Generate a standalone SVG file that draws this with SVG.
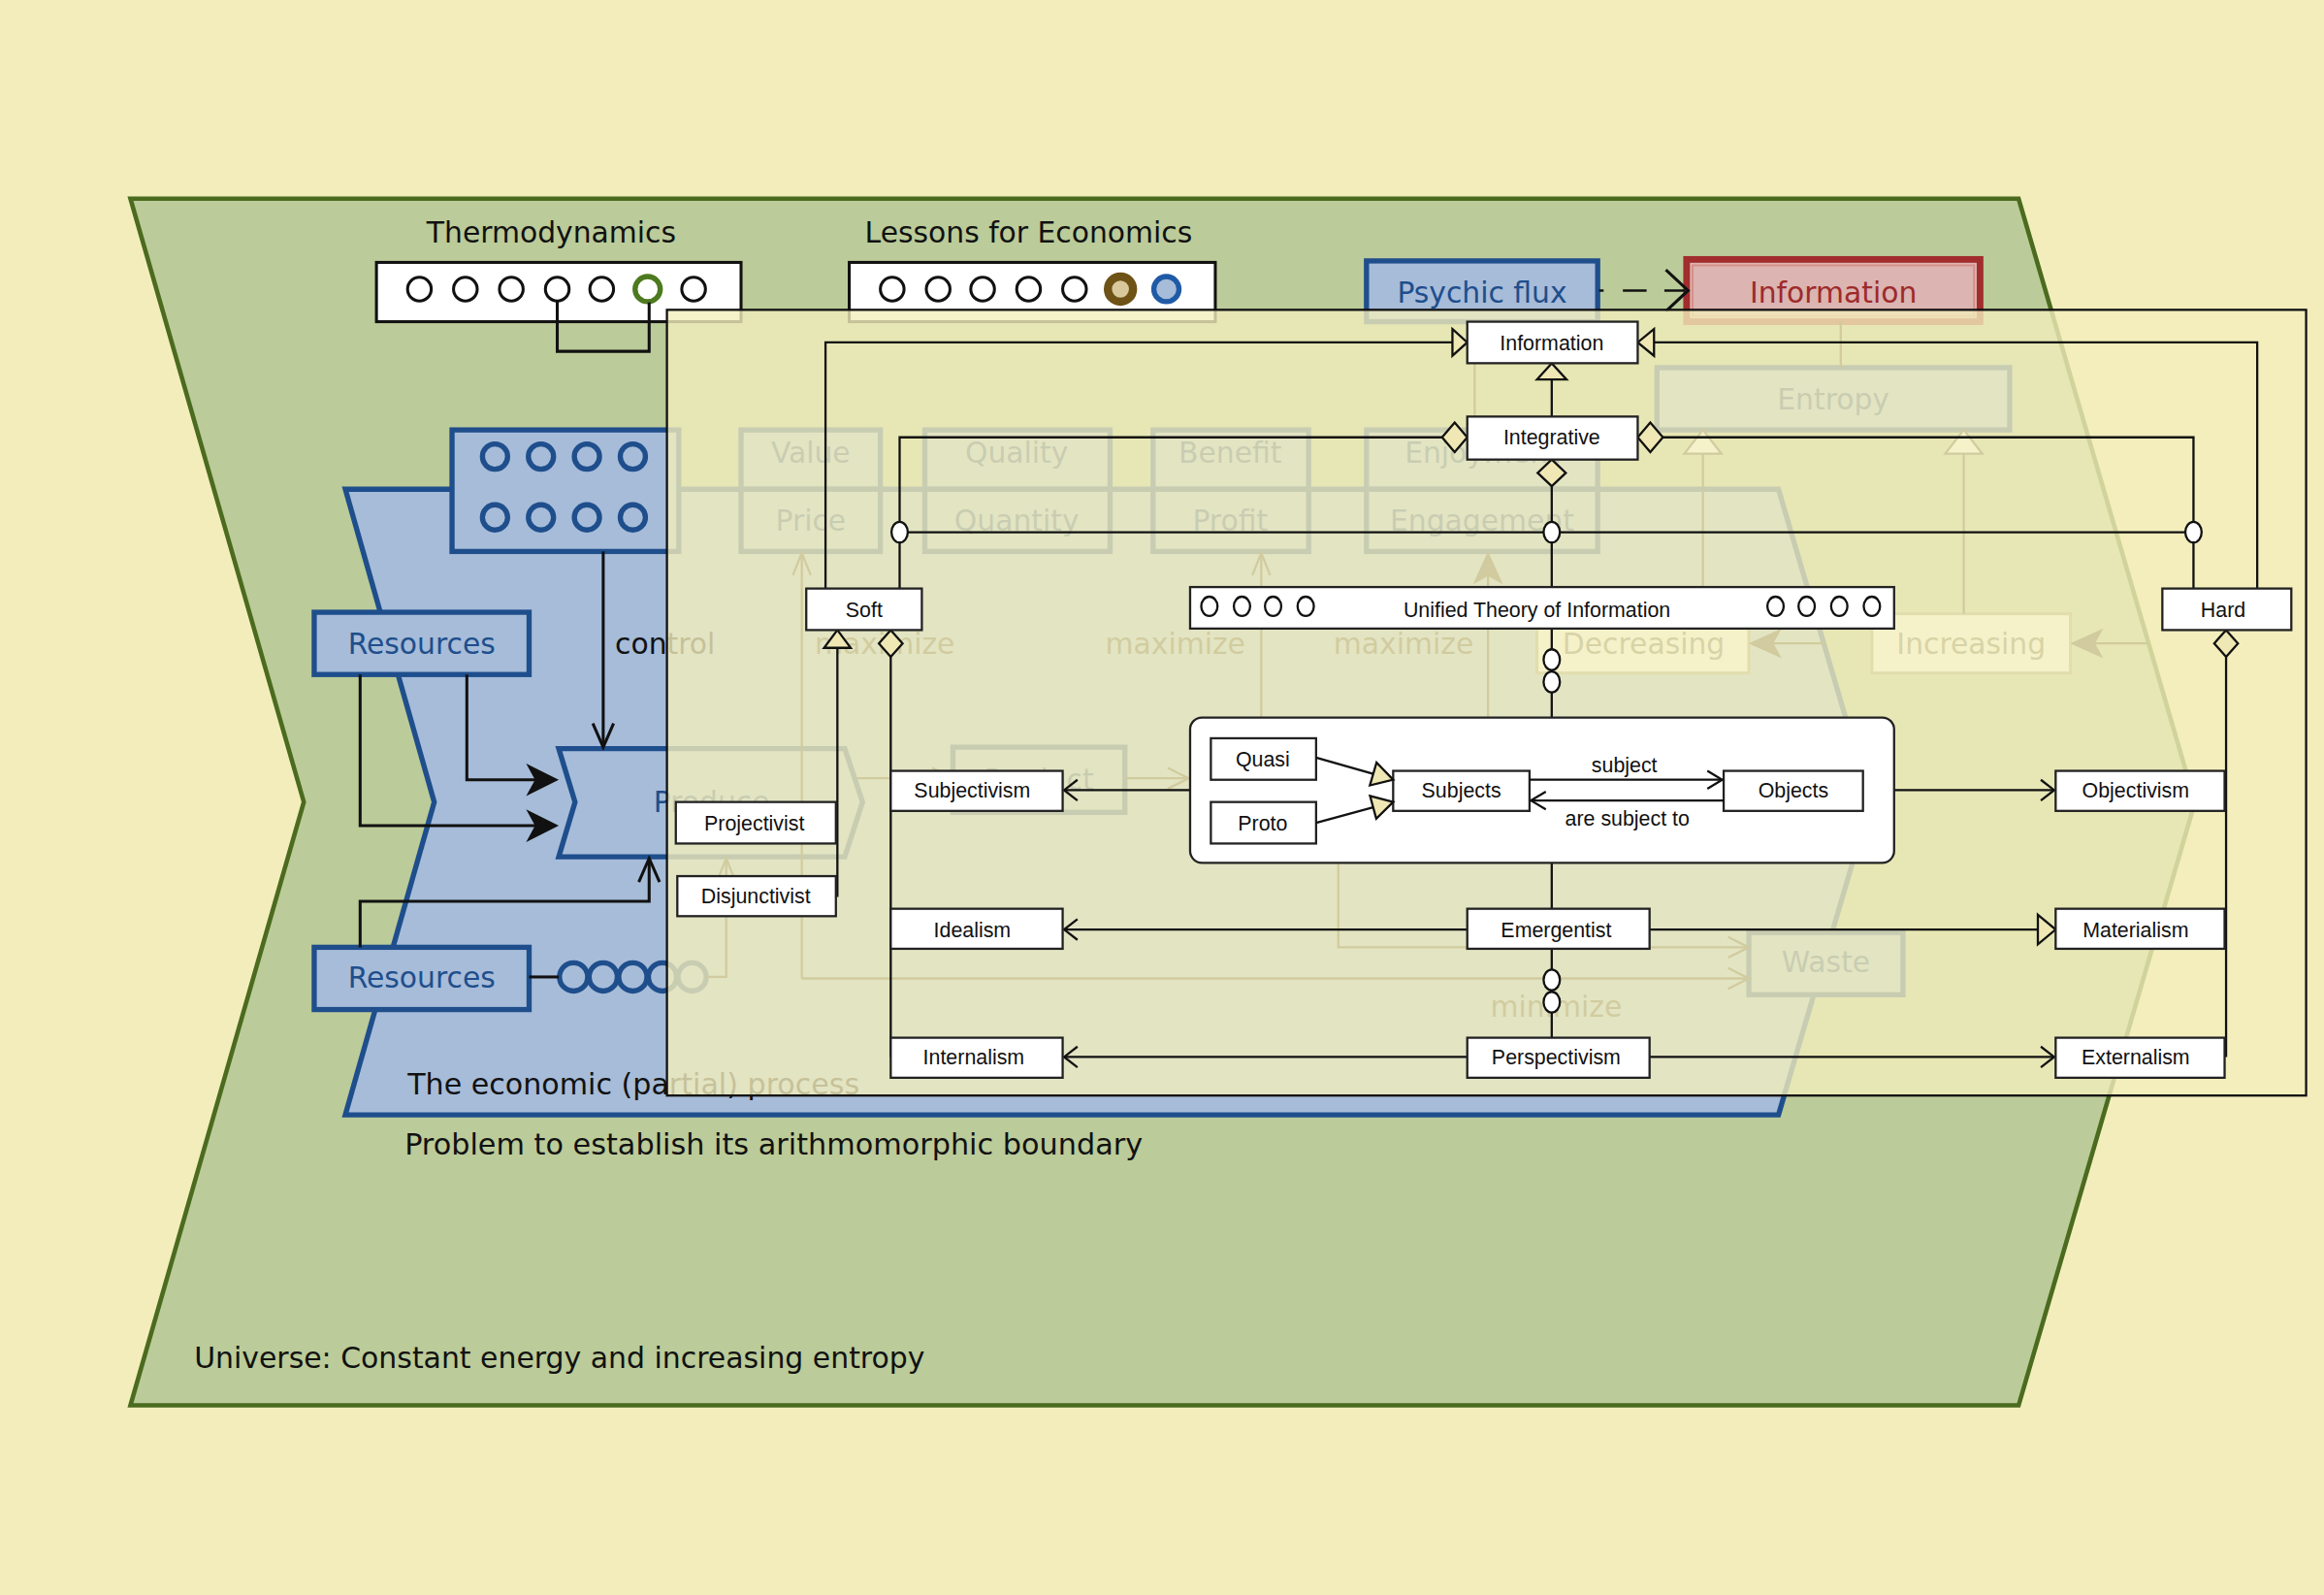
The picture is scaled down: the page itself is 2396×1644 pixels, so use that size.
<svg xmlns="http://www.w3.org/2000/svg" width="2396" height="1644" viewBox="0 0 2396 1644">
<defs>
<style>
.lbl{font-family:"DejaVu Sans",sans-serif;font-size:19.5px;fill:#111;}
.bl{font-family:"DejaVu Sans",sans-serif;font-size:19.5px;fill:#1f4e8c;}
.ft{font-family:"DejaVu Sans",sans-serif;font-size:19.5px;fill:#4a4530;}
.gt{font-family:"DejaVu Sans",sans-serif;font-size:19.5px;fill:#6e6a50;}
.uml{font-family:"Liberation Sans",Arial,sans-serif;font-size:14px;fill:#111;}
.bbox{fill:#a6bcd9;stroke:#1f4e8c;stroke-width:3.5;}
.wb{fill:#fff;stroke:#111;stroke-width:2;}
.ubox{fill:#fff;stroke:#222;stroke-width:1.5;}
.ln{fill:none;stroke:#111;stroke-width:1.5;}
.fl{fill:none;stroke:#4a4430;stroke-width:1.5;}
.ff{fill:#4a4430;stroke:#4a4430;stroke-width:1;}
.gbox{fill:#fff;stroke:#a09a78;stroke-width:2;}
.hol{fill:#efe8b4;stroke:#111;stroke-width:1.5;}
.jn{fill:#fff;stroke:#111;stroke-width:1.5;}
.c0{fill:#fff;stroke:#111;stroke-width:2;}
.cb{fill:none;stroke:#1f4e8c;stroke-width:3.5;}
.thk{fill:none;stroke:#111;stroke-width:2;}
</style>
</defs>
<rect x="0" y="0" width="2396" height="1644" fill="#f3edbc"/>
<g transform="scale(1.528)">
<g id="universe">
<polygon points="88,134 1362,134 1481,541 1362,948 88,948 205,541" fill="#bbcb99" stroke="#4b6b1f" stroke-width="3"/>
<text class="lbl" x="131" y="923" textLength="493" lengthAdjust="spacingAndGlyphs">Universe: Constant energy and increasing entropy</text>
<text class="lbl" x="273" y="779" textLength="498" lengthAdjust="spacingAndGlyphs">Problem to establish its arithmomorphic boundary</text>
</g>
<g id="thermodynamics">
<text class="lbl" x="372" y="163.5" text-anchor="middle">Thermodynamics</text>
<rect class="wb" x="254" y="177" width="246" height="40"/>
<circle class="c0" cx="283" cy="195" r="8"/><circle class="c0" cx="314" cy="195" r="8"/><circle class="c0" cx="345" cy="195" r="8"/><circle class="c0" cx="376" cy="195" r="8"/><circle class="c0" cx="406" cy="195" r="8"/>
<circle cx="437" cy="195" r="8.5" fill="#fff" stroke="#4d7a1f" stroke-width="3.5"/>
<circle class="c0" cx="468" cy="195" r="8"/>
<path class="thk" d="M376,203 V237 H438 V204"/>
</g>
<g id="lessons">
<text class="lbl" x="694" y="163.5" text-anchor="middle">Lessons for Economics</text>
<rect class="wb" x="573" y="177" width="247" height="40"/>
<circle class="c0" cx="602" cy="195" r="8"/><circle class="c0" cx="633" cy="195" r="8"/><circle class="c0" cx="663" cy="195" r="8"/><circle class="c0" cx="694" cy="195" r="8"/><circle class="c0" cx="725" cy="195" r="8"/>
<circle cx="756" cy="195" r="8.5" fill="#d8c89c" stroke="#6e5216" stroke-width="5.5"/>
<circle cx="787" cy="195" r="8.5" fill="#a6bcd9" stroke="#1f5aa6" stroke-width="3.5"/>
</g>
<g id="process">
<polygon points="233,330 1200,330 1262,541 1200,752 233,752 293,541" fill="#a6bcd9" stroke="#1f4e8c" stroke-width="3.5"/>
<text class="lbl" x="275" y="738" textLength="305" lengthAdjust="spacingAndGlyphs">The economic (partial) process</text>
</g>
<g id="control-box">
<rect class="bbox" x="305" y="290" width="153" height="82"/>
<circle class="cb" cx="334" cy="308" r="8.5"/><circle class="cb" cx="365" cy="308" r="8.5"/><circle class="cb" cx="396" cy="308" r="8.5"/><circle class="cb" cx="427" cy="308" r="8.5"/>
<circle class="cb" cx="334" cy="349" r="8.5"/><circle class="cb" cx="365" cy="349" r="8.5"/><circle class="cb" cx="396" cy="349" r="8.5"/><circle class="cb" cx="427" cy="349" r="8.5"/>
</g>
<g id="resources-1"><rect class="bbox" x="212" y="413" width="145" height="42"/><text class="bl" x="284.5" y="441" text-anchor="middle">Resources</text></g>
<g id="resources-2"><rect class="bbox" x="212" y="639" width="145" height="42"/><text class="bl" x="284.5" y="666" text-anchor="middle">Resources</text></g>
<g id="produce"><polygon class="bbox" points="377,505 570,505 582,541 570,578 377,578 388,541"/><text class="bl" x="441" y="548">Produce</text></g>
<g id="chain">
<circle class="cb" cx="387" cy="659" r="9.5" stroke-width="3"/><circle class="cb" cx="407" cy="659" r="9.5" stroke-width="3"/><circle class="cb" cx="427" cy="659" r="9.5" stroke-width="3"/><circle class="cb" cx="447" cy="659" r="9.5" stroke-width="3"/><circle class="cb" cx="467" cy="659" r="9.5" stroke-width="3"/>
</g>
<g id="value-price"><rect class="bbox" x="500" y="290" width="94" height="40"/><rect class="bbox" x="500" y="330" width="94" height="42"/><text class="bl" x="547" y="312" text-anchor="middle">Value</text><text class="bl" x="547" y="358" text-anchor="middle">Price</text></g>
<g id="quality-quantity"><rect class="bbox" x="624" y="290" width="125" height="40"/><rect class="bbox" x="624" y="330" width="125" height="42"/><text class="bl" x="686" y="312" text-anchor="middle">Quality</text><text class="bl" x="686" y="358" text-anchor="middle">Quantity</text></g>
<g id="benefit-profit"><rect class="bbox" x="778" y="290" width="105" height="40"/><rect class="bbox" x="778" y="330" width="105" height="42"/><text class="bl" x="830" y="312" text-anchor="middle">Benefit</text><text class="bl" x="830" y="358" text-anchor="middle">Profit</text></g>
<g id="enjoyment-engagement"><rect class="bbox" x="922" y="290" width="156" height="40"/><rect class="bbox" x="922" y="330" width="156" height="42"/><text class="bl" x="1000" y="312" text-anchor="middle">Enjoyment</text><text class="bl" x="1000" y="358" text-anchor="middle">Engagement</text></g>
<g id="product"><rect class="bbox" x="643" y="504" width="116" height="44"/><text class="bl" x="701" y="533" text-anchor="middle">Product</text></g>
<g id="waste"><rect class="bbox" x="1180" y="629" width="104" height="42"/><text class="bl" x="1232" y="656" text-anchor="middle">Waste</text></g>
<g id="entropy"><rect class="bbox" x="1118" y="248" width="238" height="42"/><text class="bl" x="1237" y="276" text-anchor="middle">Entropy</text></g>
<g id="decreasing"><rect class="gbox" x="1037" y="414" width="143" height="40"/><text class="gt" x="1109" y="441" text-anchor="middle">Decreasing</text></g>
<g id="increasing"><rect class="gbox" x="1263" y="414" width="134" height="40"/><text class="gt" x="1330" y="441" text-anchor="middle">Increasing</text></g>
<g id="psychic-flux"><rect class="bbox" x="922" y="176" width="156" height="41" stroke="#2158a6"/><text class="bl" x="1000" y="204" text-anchor="middle">Psychic flux</text></g>
<g id="information-red"><rect x="1138" y="175" width="198" height="42" fill="#dcb4b1" stroke="#a12d2d" stroke-width="4.5"/><rect x="1142" y="179" width="190" height="34" fill="none" stroke="#d68c86" stroke-width="1.2"/><text x="1237" y="204" text-anchor="middle" font-family="DejaVu Sans, sans-serif" font-size="19.5" fill="#9e2a2a">Information</text></g>
<g id="eco-connectors">
<path class="thk" d="M407,372 V503"/><path class="thk" d="M400,488 L407,504 L414,488"/>
<path class="thk" d="M315,455 V526 H362"/><path d="M377,526 L355,515 L361,526 L355,537 Z" fill="#111"/>
<path class="thk" d="M243,455 V557 H362"/><path d="M377,557 L355,546 L361,557 L355,568 Z" fill="#111"/>
<path class="thk" d="M243,639 V608 H438 V580"/><path class="thk" d="M431,595 L438,579 L445,595"/>
<path class="thk" d="M357,659 H377"/>
<path class="ln" d="M1079,196 h3 M1095,196 h16 M1123,196 h14" stroke-width="2"/>
<path class="thk" d="M1124,182 L1139,196 L1124,210"/>
<text class="lbl" x="415" y="441">control</text>
<path class="fl" d="M1242,217 V248"/>
<path class="fl" d="M995,217 V290"/>
<path class="fl" d="M476,659 H490 V581"/><path class="fl" d="M484,594 L490,579 L496,594"/>
<path class="fl" d="M578,525 H641"/><path class="fl" d="M629,518 L643,525 L629,532"/>
<path class="fl" d="M759,525 H800"/><path class="fl" d="M788,518 L802,525 L788,532"/>
<path class="fl" d="M541,660 V374"/><path class="fl" d="M535,388 L541,373 L547,388"/>
<path class="fl" d="M541,660 H1178"/><path class="fl" d="M1166,653 L1180,660 L1166,667"/>
<path class="fl" d="M903,582 V639 H1178"/><path class="fl" d="M1166,632 L1180,639 L1166,646"/>
<path class="fl" d="M851,484 V374"/><path class="fl" d="M845,388 L851,373 L857,388"/>
<path class="fl" d="M1004,484 V380"/><path class="ff" d="M1004,373 L1013,393 L1004,388 L995,393 Z"/>
<path class="fl" d="M1232,434 H1190"/><path class="ff" d="M1181,434 L1201,425 L1196,434 L1201,443 Z"/>
<path class="fl" d="M1449,434 H1406"/><path class="ff" d="M1398,434 L1418,425 L1413,434 L1418,443 Z"/>
<path class="fl" d="M1149,414 V306"/><path d="M1149,290 L1161.5,306 L1136.5,306 Z" fill="#fff" stroke="#4a4430" stroke-width="1.5"/>
<path class="fl" d="M1325,414 V306"/><path d="M1325,290 L1337.5,306 L1312.5,306 Z" fill="#fff" stroke="#4a4430" stroke-width="1.5"/>
<text class="ft" x="597" y="441" text-anchor="middle">maximize</text>
<text class="ft" x="793" y="441" text-anchor="middle">maximize</text>
<text class="ft" x="947" y="441" text-anchor="middle">maximize</text>
<text class="ft" x="1050" y="686" text-anchor="middle">minimize</text>
</g>
<rect id="uml-panel" x="450" y="209" width="1106" height="530" fill="#f3edbc" fill-opacity="0.8" stroke="#111" stroke-width="1.5"/>
<g id="connectors">
<path class="ln" d="M557,397 V231 H981"/><path class="hol" d="M980,222 L990,231 L980,240 Z"/>
<path class="ln" d="M1523,397 V231 H1115"/><path class="hol" d="M1116,222 L1105,231 L1116,240 Z"/>
<path class="ln" d="M607,397 V295 H973"/><path class="hol" d="M973,295 L981.5,285 L990,295 L981.5,305 Z"/>
<path class="ln" d="M1480,397 V295 H1122"/><path class="hol" d="M1105,295 L1113.5,285 L1122,295 L1113.5,305 Z"/>
<path class="ln" d="M1047,281 V256"/><path class="hol" d="M1037,256 L1047,245 L1057,256 Z"/>
<path class="ln" d="M1047,328 V396"/><path class="hol" d="M1047,310 L1056.5,319 L1047,328 L1037.5,319 Z"/>
<path class="ln" d="M607,359 H1480"/>
<ellipse class="jn" cx="607" cy="359" rx="5.5" ry="7"/><ellipse class="jn" cx="1047" cy="359" rx="5.5" ry="7"/><ellipse class="jn" cx="1480" cy="359" rx="5.5" ry="7"/>
<path class="ln" d="M1047,424 V484"/><ellipse class="jn" cx="1047" cy="445" rx="5.5" ry="7"/><ellipse class="jn" cx="1047" cy="460" rx="5.5" ry="7"/>
<path class="ln" d="M1047,582 V613"/>
<path class="ln" d="M1047,640 V700"/><ellipse class="jn" cx="1047" cy="661" rx="5.5" ry="7"/><ellipse class="jn" cx="1047" cy="676" rx="5.5" ry="7"/>
<path class="ln" d="M803,533 H718"/><path class="ln" d="M727,526 L718,533 L727,540"/>
<path class="ln" d="M1278,533 H1386"/><path class="ln" d="M1377,526 L1386,533 L1377,540"/>
<path class="ln" d="M990,627 H718"/><path class="ln" d="M727,620 L718,627 L727,634"/>
<path class="ln" d="M1113,627 H1375"/><path class="hol" d="M1375,617 L1387,627 L1375,637 Z"/>
<path class="ln" d="M990,713 H718"/><path class="ln" d="M727,706 L718,713 L727,720"/>
<path class="ln" d="M1113,713 H1386"/><path class="ln" d="M1377,706 L1386,713 L1377,720"/>
<path class="ln" d="M565,437 V605"/><path class="hol" d="M565,425 L574,437 L556,437 Z"/>
<path class="ln" d="M601,443 V713"/><path class="hol" d="M601,425 L609,434 L601,443 L593,434 Z"/>
<path class="ln" d="M1502,443 V713"/><path class="hol" d="M1502,425 L1510,434 L1502,443 L1494,434 Z" fill="#f3edbc"/>
</g>
<g id="n-information"><rect class="ubox" x="990" y="217" width="115" height="28"/><text class="uml" x="1047" y="236" text-anchor="middle">Information</text></g>
<g id="n-integrative"><rect class="ubox" x="990" y="281" width="115" height="29"/><text class="uml" x="1047" y="300" text-anchor="middle">Integrative</text></g>
<g id="n-soft"><rect class="ubox" x="544" y="397" width="78" height="28"/><text class="uml" x="583" y="416" text-anchor="middle">Soft</text></g>
<g id="n-hard"><rect class="ubox" x="1459" y="397" width="87" height="28"/><text class="uml" x="1500" y="416" text-anchor="middle">Hard</text></g>
<g id="n-uti"><rect class="ubox" x="803" y="396" width="475" height="28"/>
<ellipse class="jn" cx="816" cy="409" rx="5.5" ry="6.5"/><ellipse class="jn" cx="838" cy="409" rx="5.5" ry="6.5"/><ellipse class="jn" cx="859" cy="409" rx="5.5" ry="6.5"/><ellipse class="jn" cx="881" cy="409" rx="5.5" ry="6.5"/>
<ellipse class="jn" cx="1198" cy="409" rx="5.5" ry="6.5"/><ellipse class="jn" cx="1219" cy="409" rx="5.5" ry="6.5"/><ellipse class="jn" cx="1241" cy="409" rx="5.5" ry="6.5"/><ellipse class="jn" cx="1263" cy="409" rx="5.5" ry="6.5"/>
<text class="uml" x="1037" y="416.5" text-anchor="middle">Unified Theory of Information</text></g>
<g id="n-subjectivism"><rect class="ubox" x="601" y="520" width="116" height="27"/><text class="uml" x="656" y="538" text-anchor="middle">Subjectivism</text></g>
<g id="n-idealism"><rect class="ubox" x="601" y="613" width="116" height="27"/><text class="uml" x="656" y="632" text-anchor="middle">Idealism</text></g>
<g id="n-internalism"><rect class="ubox" x="601" y="700" width="116" height="27"/><text class="uml" x="657" y="718" text-anchor="middle">Internalism</text></g>
<g id="n-objectivism"><rect class="ubox" x="1387" y="520" width="114" height="27"/><text class="uml" x="1441" y="538" text-anchor="middle">Objectivism</text></g>
<g id="n-materialism"><rect class="ubox" x="1387" y="613" width="114" height="27"/><text class="uml" x="1441" y="632" text-anchor="middle">Materialism</text></g>
<g id="n-externalism"><rect class="ubox" x="1387" y="700" width="114" height="27"/><text class="uml" x="1441" y="718" text-anchor="middle">Externalism</text></g>
<g id="n-emergentist"><rect class="ubox" x="990" y="613" width="123" height="27"/><text class="uml" x="1050" y="632" text-anchor="middle">Emergentist</text></g>
<g id="n-perspectivism"><rect class="ubox" x="990" y="700" width="123" height="27"/><text class="uml" x="1050" y="718" text-anchor="middle">Perspectivism</text></g>
<g id="n-projectivist"><rect class="ubox" x="456" y="541" width="108" height="28"/><text class="uml" x="509" y="560" text-anchor="middle">Projectivist</text></g>
<g id="n-disjunctivist"><rect class="ubox" x="457" y="591" width="107" height="27"/><text class="uml" x="510" y="609" text-anchor="middle">Disjunctivist</text></g>
<g id="n-subject-object">
<rect class="ubox" x="803" y="484" width="475" height="98" rx="8"/>
<g id="n-quasi"><rect class="ubox" x="817" y="498" width="71" height="28"/><text class="uml" x="852" y="517" text-anchor="middle">Quasi</text></g>
<g id="n-proto"><rect class="ubox" x="817" y="541" width="71" height="28"/><text class="uml" x="852" y="560" text-anchor="middle">Proto</text></g>
<g id="n-subjects"><rect class="ubox" x="940" y="520" width="92" height="27"/><text class="uml" x="986" y="538" text-anchor="middle">Subjects</text></g>
<g id="n-objects"><rect class="ubox" x="1163" y="520" width="94" height="27"/><text class="uml" x="1210" y="538" text-anchor="middle">Objects</text></g>
<path class="ln" d="M888,511 L926.5,522"/><path class="hol" d="M940,526 L924.3,529.8 L928.8,514.4 Z"/>
<path class="ln" d="M888,555 L926.5,544.6"/><path class="hol" d="M940,541 L928.6,552.3 L924.4,536.9 Z"/>
<path class="ln" d="M1032,526 H1162"/><path class="ln" d="M1152,520 L1162,526 L1152,532"/>
<path class="ln" d="M1163,540 H1033"/><path class="ln" d="M1043,534 L1033,540 L1043,546"/>
<text class="uml" x="1096" y="521" text-anchor="middle">subject</text>
<text class="uml" x="1098" y="557" text-anchor="middle">are subject to</text>
</g>
</g>
</svg>
